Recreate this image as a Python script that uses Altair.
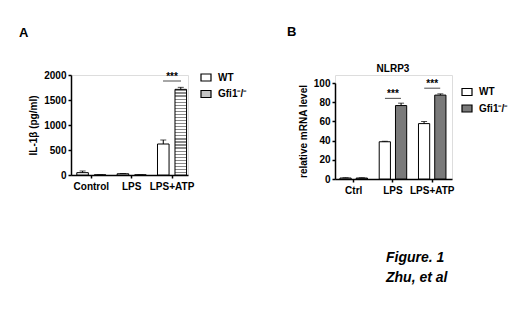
import altair as alt
import pandas as pd

# ---------------- data ----------------
series = ["WT", "Gfi1⁻/⁻"]

groups_a = ["Control", "LPS", "LPS+ATP"]
wt_a = [47, 25, 620]
wt_a_err = [33, 5, 80]
gfi_a = [2, 2, 1713]
gfi_a_err = [0, 0, 40]
yticks_a = [0, 500, 1000, 1500, 2000]

groups_b = ["Ctrl", "LPS", "LPS+ATP"]
wt_b = [1.0, 38.8, 57.7]
wt_b_err = [0.3, 0.5, 2.2]
gfi_b = [1.0, 76.5, 87.4]
gfi_b_err = [0.3, 2.5, 1.3]
yticks_b = [0, 20, 40, 60, 80, 100]

sig_a_groups = ["LPS+ATP"]
sig_a_y = [1880]
sig_b_groups = ["LPS", "LPS+ATP"]
sig_b_y = [84, 94.6]

FONT = "Liberation Sans"


def frame(groups, wt, wt_err, gfi, gfi_err):
    rows = []
    for g, v, e in zip(groups, wt, wt_err):
        rows.append({"group": g, "series": series[0], "value": v, "top": v + e})
    for g, v, e in zip(groups, gfi, gfi_err):
        rows.append({"group": g, "series": series[1], "value": v, "top": v + e})
    return pd.DataFrame(rows)


df_a = frame(groups_a, wt_a, wt_a_err, gfi_a, gfi_a_err)
df_b = frame(groups_b, wt_b, wt_b_err, gfi_b, gfi_b_err)
sig_a = pd.DataFrame({"group": sig_a_groups, "value": sig_a_y})
sig_b = pd.DataFrame({"group": sig_b_groups, "value": sig_b_y})

# horizontal stripe fill for the Gfi1 bars of panel A
stops = []
n_str = 28
for k in range(n_str):
    a = k / n_str
    b = (k + 0.4) / n_str
    c = (k + 1) / n_str
    stops += [
        alt.GradientStop(offset=a, color="#8a8a8a"),
        alt.GradientStop(offset=b, color="#8a8a8a"),
        alt.GradientStop(offset=b, color="#ffffff"),
        alt.GradientStop(offset=c, color="#ffffff"),
    ]
stripes = alt.LinearGradient(gradient="linear", stops=stops, x1=0, x2=0, y1=0, y2=1)

lab = dict(labelFont=FONT, labelFontSize=10, labelFontWeight="bold", labelColor="black",
           domainColor="black", domainWidth=1.5, tickColor="black", tickWidth=1.5,
           grid=False, labelOverlap=False)


def panel(df, sig, groups, yaxis, yscale, xscale_kw, off_pad, fill_range,
          gfi_fill, legend_xy, line_size, height, extra_text):
    x = alt.X("group:N", sort=groups,
              scale=alt.Scale(domain=groups, **xscale_kw),
              axis=alt.Axis(title=None, labelAngle=0, tickSize=3, labelPadding=3, **lab))
    xo = alt.XOffset("series:N", sort=series,
                     scale=alt.Scale(domain=series, paddingInner=off_pad, paddingOuter=0))
    y = alt.Y("value:Q", scale=yscale, axis=yaxis)
    ytop = alt.Y("top:Q", scale=yscale, axis=yaxis)

    wt = alt.Chart(df).transform_filter(alt.datum.series == series[0]).mark_bar(
        stroke="black", strokeWidth=1).encode(
        x=x, xOffset=xo, y=y,
        fill=alt.Fill("series:N", scale=alt.Scale(domain=series, range=fill_range),
                      legend=alt.Legend(title=None, orient="none",
                                        legendX=legend_xy[0], legendY=legend_xy[1],
                                        symbolType="M-1,-0.7H1V0.7H-1Z", symbolSize=100,
                                        symbolStrokeColor="black", symbolStrokeWidth=1.2,
                                        labelFont=FONT, labelFontSize=10,
                                        labelFontWeight="bold", labelColor="black",
                                        labelOffset=6, rowPadding=4.5, padding=0)))
    gfi = alt.Chart(df).transform_filter(alt.datum.series == series[1]).mark_bar(
        stroke="black", strokeWidth=1, fill=gfi_fill).encode(x=x, xOffset=xo, y=y)
    err = alt.Chart(df).mark_rule(color="black", strokeWidth=1).encode(
        x=x, xOffset=xo, y=y, y2="top:Q")
    cap = alt.Chart(df).mark_tick(color="black", size=6, thickness=1).encode(
        x=x, xOffset=xo, y=ytop)
    line = alt.Chart(sig).mark_tick(color="black", size=line_size, thickness=1).encode(
        x=x, y=y)
    star = alt.Chart(sig).mark_text(text="***", font=FONT, fontSize=10, fontWeight="bold",
                                    baseline="alphabetic", dy=-1, color="black").encode(
        x=x, y=y)
    layers = [wt, gfi, err, cap, line, star] + extra_text
    return alt.layer(*layers).properties(width=117, height=height)


def label(txt, x, y, size, style="normal", align="left"):
    return alt.Chart(alt.Data(values=[{}])).mark_text(
        text=txt, font=FONT, fontSize=size, fontWeight="bold", fontStyle=style,
        align=align, baseline="alphabetic", color="black").encode(
        x=alt.value(x), y=alt.value(y))


axis_common = dict(tickSize=3, labelPadding=2, titleFont=FONT, format="d",
                   titleFontSize=10, titleFontWeight="bold", titleColor="black",
                   titlePadding=5, **lab)

panel_a = panel(
    df_a, sig_a, groups_a,
    alt.Axis(title="IL-1β (pg/ml)", values=yticks_a, **axis_common),
    alt.Scale(domain=[0, 2000], nice=False),
    dict(paddingInner=0.28, paddingOuter=0.09, align=0.8),
    0.34, ["#ffffff", "#c4c4c4"], stripes, (129, -3.5), 18, 100,
    [label("A", -52, -38, 13)],
)

panel_b = panel(
    df_b, sig_b, groups_b,
    alt.Axis(title="relative mRNA level", values=yticks_b, **axis_common),
    alt.Scale(domain=[0, 100], nice=False, range=[104, 8]),
    dict(paddingInner=0.30, paddingOuter=0.14, align=0.45),
    0.31, ["#ffffff", "#7a7a7a"], "#7a7a7a", (126, 11), 16, 104,
    [label("B", -48, -39, 13),
     label("NLRP3", 58, -3, 10, align="center"),
     label("Figure. 1", 51, 187, 14, style="italic"),
     label("Zhu, et al", 51, 207, 14, style="italic")],
)

chart = alt.hconcat(panel_a, panel_b, spacing=38).resolve_scale(
    fill="independent", xOffset="independent", x="independent", y="independent"
).resolve_legend(fill="independent").properties(
    padding={"left": 10, "top": 17, "right": 0, "bottom": 0}
).configure_view(stroke=None).configure(background="white")

chart.save("out.html", embed_options={"renderer": "svg", "actions": False})
